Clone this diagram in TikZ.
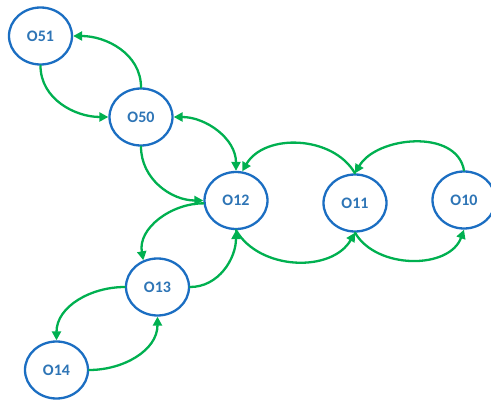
\documentclass[tikz,border=0pt]{standalone}
\usepackage{fontspec}
\setsansfont{Carlito}
\usetikzlibrary{arrows}
\usetikzlibrary{arrows.meta,shapes.geometric}
\definecolor{nodeblue}{HTML}{1B6EC2}
\definecolor{textblue}{HTML}{2E75B6}
\definecolor{arcgreen}{HTML}{00B050}
\tikzset{
  state/.style={ellipse,draw=nodeblue,line width=2.3pt,fill=white,
    minimum width=63pt,minimum height=57pt,inner sep=0pt,
    text=textblue,font=\sffamily\bfseries\fontsize{16}{18}\selectfont},
  link/.style={draw=arcgreen,line width=2.3pt}
}
\begin{document}
\begin{tikzpicture}[line cap=round,line join=round,>={Triangle[length=9pt,width=9pt]},x=1pt,y=-1pt]
    \useasboundingbox (0,0) rectangle (491,403);
    % states
    \node[state] (o51) at (40.5,36) {O51};
    \node[state] (o50) at (141,117) {O50};
    \node[state] (o12) at (236,200.5) {O12};
    \node[state] (o11) at (355,203) {O11};
    \node[state] (o10) at (464,200) {O10};
    \node[state] (o13) at (157.5,287) {O13};
    \node[state] (o14) at (56.5,370) {O14};
    % transitions
    \draw[link,->] (o50.north) to[out=90,in=0] (o51.east);
    \draw[link,->] (o51.south) to[out=-90,in=180] (o50.west);
    \draw[link,<->] (o50.east) to[out=0,in=90] (o12.north);
    \draw[link,->] (o50.south) to[out=-90,in=180] (o12.west);
    \draw[link,->] (o12.185) to[out=180,in=100] (o13.118);
    \draw[link,->] (o13.east) to[out=0,in=-90] (o12.south);
    \draw[link,->] (o13.west) to[out=180,in=90] (o14.north);
    \draw[link,->] (o14.east) to[out=0,in=-90] (o13.south);
    \draw[link,->] (o11.north) to[out=120,in=60] (o12.78);
    \draw[link,->] (o10.north) to[out=100,in=60] (o11.north);
    \draw[link,->] (o12.south) to[out=-60,in=-120] (o11.south);
    \draw[link,->] (o11.south) to[out=-60,in=-110] (o10.south);
\end{tikzpicture}
\end{document}
